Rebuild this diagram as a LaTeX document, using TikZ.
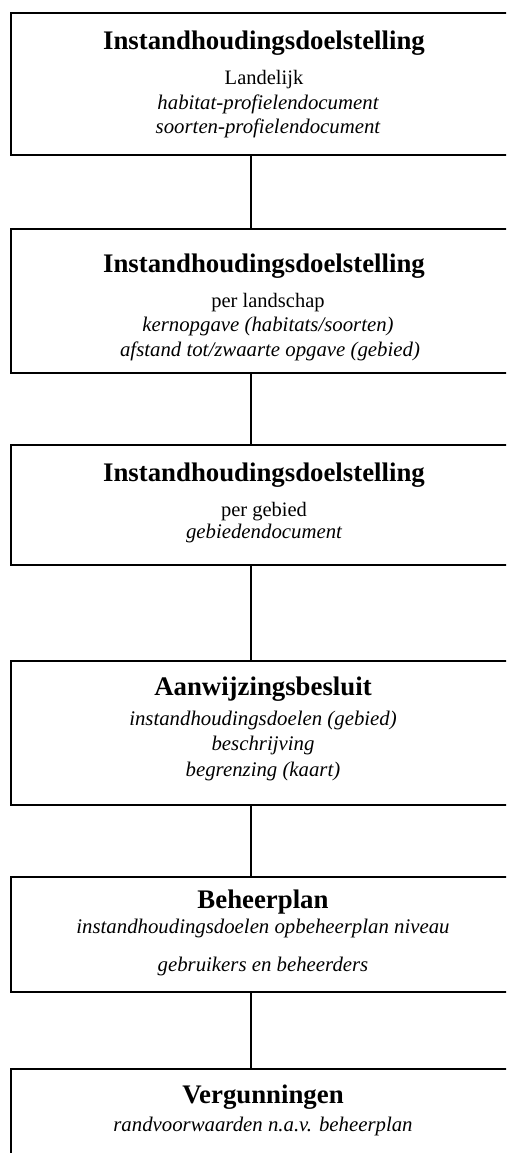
\documentclass[tikz,border=0pt]{standalone}
\usepackage{fontspec}
\setmainfont{Liberation Serif}
\begin{document}
\begin{tikzpicture}[x=1pt,y=-1pt,
  boxstyle/.style={draw=black,line width=2pt,rectangle,inner sep=0pt,outer sep=0pt,anchor=north west},
  ttl/.style={anchor=base,inner sep=0pt,font=\fontsize{26.8}{28}\selectfont\bfseries},
  reg/.style={anchor=base,inner sep=0pt,font=\fontsize{20.5}{22}\selectfont},
  ital/.style={anchor=base,inner sep=0pt,font=\fontsize{20.8}{22}\selectfont\itshape},
  link/.style={draw=black,line width=2pt}]
\useasboundingbox (0,0) rectangle (506,1153);
\clip (0,0) rectangle (506,1153);
\coordinate (cx) at (251,0);
% boxes
\node[boxstyle,minimum width=510pt,minimum height=142.3pt] (b1) at (10.7,12.7) {};
\node[boxstyle,minimum width=510pt,minimum height=143.7pt] (b2) at (10.7,229) {};
\node[boxstyle,minimum width=510pt,minimum height=120pt] (b3) at (10.7,445) {};
\node[boxstyle,minimum width=510pt,minimum height=144pt] (b4) at (10.7,661) {};
\node[boxstyle,minimum width=510pt,minimum height=114.7pt] (b5) at (10.7,877.3) {};
\node[boxstyle,minimum width=510pt,minimum height=120pt] (b6) at (10.7,1069) {};
% texts
\node[ttl] (t1a) at (264,50) {Instandhoudingsdoelstelling};
\node[reg] (t1b) at (264,85) {Landelijk};
\node[ital] (t1c) at (268,110) {habitat-profielendocument};
\node[ital] (t1d) at (268,133) {soorten-profielendocument};
\node[ttl] (t2a) at (264,272.3) {Instandhoudingsdoelstelling};
\node[reg] (t2b) at (268,307) {per landschap};
\node[ital] (t2c) at (268,331.7) {kernopgave (habitats/soorten)};
\node[ital] (t2d) at (270,356.7) {afstand tot/zwaarte opgave (gebied)};
\node[ttl] (t3a) at (264,481.7) {Instandhoudingsdoelstelling};
\node[reg] (t3b) at (264,516) {per gebied};
\node[ital] (t3c) at (264,538) {gebiedendocument};
\node[ttl] (t4a) at (263,695) {Aanwijzingsbesluit};
\node[ital] (t4b) at (263,725) {instandhoudingsdoelen (gebied)};
\node[ital] (t4c) at (263,750) {beschrijving};
\node[ital] (t4d) at (263,776) {begrenzing (kaart)};
\node[ttl] (t5a) at (263,908) {Beheerplan};
\node[ital] (t5b) at (263,933) {instandhoudingsdoelen opbeheerplan niveau};
\node[ital] (t5c) at (263,971.7) {gebruikers en beheerders};
\node[ttl] (t6a) at (263,1103) {Vergunningen};
\node[ital] (t6b) at (263,1131.7) {randvoorwaarden n.a.v. beheerplan};
% connectors
\draw[link] (b1.south -| cx) -- (b2.north -| cx);
\draw[link] (b2.south -| cx) -- (b3.north -| cx);
\draw[link] (b3.south -| cx) -- (b4.north -| cx);
\draw[link] (b4.south -| cx) -- (b5.north -| cx);
\draw[link] (b5.south -| cx) -- (b6.north -| cx);
\end{tikzpicture}
\end{document}
